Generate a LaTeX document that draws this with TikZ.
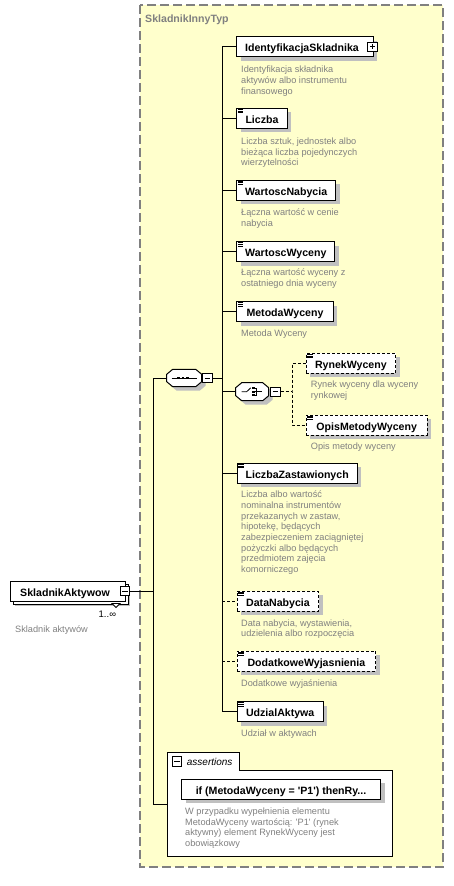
\documentclass[tikz,border=0pt]{standalone}
\usepackage{fontspec}
\setmainfont{Liberation Sans}
\usetikzlibrary{calc,shadows}
\definecolor{typefill}{RGB}{255,255,204}
\definecolor{shadowgray}{RGB}{192,192,192}
\definecolor{descgray}{RGB}{128,128,128}
\definecolor{bordergray}{RGB}{128,128,128}
\newcommand\elemfont{\fontsize{10.6}{13}\selectfont\bfseries}
\newcommand\descfont{\fontsize{9.2}{10.7}\selectfont}
\newcommand\dstrut{\rule{0pt}{7.5pt}}
\newcommand\simpleicon[1]{\draw[line width=0.7pt] ($(#1.north west)+(1.5,1.6)$) -- ++(5.5,0) ($(#1.north west)+(1.5,3.3)$) -- ++(5.5,0) ($(#1.north west)+(1.5,5)$) -- ++(5.5,0);}
\begin{document}
\begin{tikzpicture}[x=1pt,y=-1pt,
  elem/.style={draw=black, fill=white, line width=1pt, minimum height=20pt, inner sep=0pt,
    text height=10pt, text depth=0pt, font=\elemfont, anchor=west,
    drop shadow={shadow xshift=4pt, shadow yshift=-4pt, fill=shadowgray, opacity=1}},
  optelem/.style={elem, dash pattern=on 3pt off 2pt},
  desc/.style={anchor=north west, inner sep=0pt, align=left, text=descgray, font=\descfont},
  conn/.style={line width=1pt},
  optconn/.style={line width=1pt, dash pattern=on 3pt off 2pt},
  anchorbox/.style={inner sep=0pt, draw=none},
  pmbox/.style={draw=black, fill=white, line width=0.8pt, minimum size=9.5pt, inner sep=0pt},
  minusbox/.style={pmbox, path picture={\draw[line width=0.8pt] ($(path picture bounding box.west)+(2,0)$) -- ($(path picture bounding box.east)+(-2,0)$);}},
  plusbox/.style={pmbox, path picture={\draw[line width=0.8pt] ($(path picture bounding box.west)+(2,0)$) -- ($(path picture bounding box.east)+(-2,0)$) ($(path picture bounding box.north)+(0,2)$) -- ($(path picture bounding box.south)+(0,-2)$);}}
]
% page
\fill[white] (0,0) rectangle (454,886);
\useasboundingbox (0,0) rectangle (454,886);

% complex type box
\filldraw[fill=typefill, draw=bordergray, line width=1.2pt, dash pattern=on 9pt off 4pt] (140,5) rectangle (443,867);
\node[anchor=base west, inner sep=0pt, text=descgray, font=\elemfont] (typename) at (145,22.5) {SkladnikInnyTyp};

% connector coordinates
\coordinate (lvtop) at (153,378);
\coordinate (lvjoin) at (153,591);
\coordinate (lvbot) at (153,804);
\coordinate (asin) at (167.3,804);
\coordinate (rvtop) at (222,46.7);
\coordinate (rvbot) at (222,711.7);
\coordinate (cv) at (292,391.7);

% main element SkladnikAktywow (stacked)
\fill[shadowgray] (15,586) rectangle (130,606);
\filldraw[fill=white, line width=1pt] (13,584) rectangle (128,604);
\node[draw=black, fill=white, line width=1pt, minimum height=20pt, minimum width=115pt, inner sep=0pt, text height=10pt, text depth=0pt, font=\elemfont, anchor=west] (main) at (10,591) {SkladnikAktywow\hspace*{6pt}};
\filldraw[fill=white, line width=0.8pt] (112,603.5) -- (120,603.5) -- (116,607.5) -- cycle;
\node[minusbox] (mainm) at (125,591) {};
\node[anchor=base west, inner sep=0pt, font=\fontsize{9.5}{11}\selectfont] (mult) at (98.5,617) {1..∞};
\node[desc] (maindesc) at (15,625) {\dstrut Skladnik aktywów};

% left connectors
\draw[conn] (mainm.east) -- (lvjoin);
\draw[conn] (lvtop) -- (lvbot) -- (asin);

% sequence
\node[anchorbox, minimum width=35pt, minimum height=17.4pt] (seq) at (184.2,378) {};
\fill[shadowgray, shift={(4,4)}] (172.7,369.3) -- (195.7,369.3) -- (201.7,374.3) -- (201.7,381.7) -- (195.7,386.7) -- (172.7,386.7) -- (166.7,381.7) -- (166.7,374.3) -- cycle;
\filldraw[fill=white, line width=1pt] (172.7,369.3) -- (195.7,369.3) -- (201.7,374.3) -- (201.7,381.7) -- (195.7,386.7) -- (172.7,386.7) -- (166.7,381.7) -- (166.7,374.3) -- cycle;
\draw[line width=0.8pt] (171.7,378) -- (196.7,378);
\fill (177.3,376.6) rectangle +(2.8,2.8);
\fill (181.6,376.6) rectangle +(2.8,2.8);
\fill (185.9,376.6) rectangle +(2.8,2.8);
\node[minusbox] (seqm) at (207.3,378) {};
\draw[conn] (lvtop) -- (seq.west);
\draw[conn] (seqm.east) -- (seqm.east -| rvtop);
\draw[conn] (rvtop) -- (rvbot);

% children
\node[elem, minimum width=136.4pt] (ident) at (236.3,46.7) {IdentyfikacjaSkladnika\hspace*{6pt}};
\node[plusbox] (identp) at (372.5,46.7) {};
\node[desc] (identd) at (241,65) {\dstrut Identyfikacja składnika\\aktywów albo instrumentu\\finansowego};

\node[elem, minimum width=50.4pt] (liczba) at (236.3,118.3) {Liczba};
\simpleicon{liczba}
\node[desc] (liczbad) at (241,136.7) {\dstrut Liczba sztuk, jednostek albo\\bieżąca liczba pojedynczych\\wierzytelności};

\node[elem, minimum width=98.7pt] (wnab) at (236.3,190) {WartoscNabycia};
\simpleicon{wnab}
\node[desc] (wnabd) at (241,208) {\dstrut Łączna wartość w cenie\\nabycia};

\node[elem, minimum width=98pt] (wwyc) at (236.3,251.7) {WartoscWyceny};
\simpleicon{wwyc}
\node[desc] (wwycd) at (241,268) {\dstrut Łączna wartość wyceny z\\ostatniego dnia wyceny};

\node[elem, minimum width=96.4pt] (metoda) at (236.3,311.5) {MetodaWyceny};
\simpleicon{metoda}
\node[desc] (metodad) at (241,329) {\dstrut Metoda Wyceny};

% choice
\node[anchorbox, minimum width=33pt, minimum height=18pt] (choice) at (252.2,391.7) {};
\fill[shadowgray, shift={(4,4)}] (241.7,382.7) -- (262.7,382.7) -- (268.7,387.7) -- (268.7,395.7) -- (262.7,400.7) -- (241.7,400.7) -- (235.7,395.7) -- (235.7,387.7) -- cycle;
\filldraw[fill=white, line width=1pt] (241.7,382.7) -- (262.7,382.7) -- (268.7,387.7) -- (268.7,395.7) -- (262.7,400.7) -- (241.7,400.7) -- (235.7,395.7) -- (235.7,387.7) -- cycle;
\draw[line width=0.8pt] (241.5,391.7) -- (246.7,391.7) -- (250.7,387.8);
\fill (252.3,387) rectangle +(2.4,2.4);
\fill (252.3,390.5) rectangle +(2.4,2.4);
\fill (252.3,394) rectangle +(2.4,2.4);
\draw[line width=0.8pt] (254.7,388.2) -- (256.5,388.2) -- (256.5,395.2) -- (254.7,395.2) (254.7,391.7) -- (262,391.7);
\node[minusbox] (choicem) at (275.5,391.7) {};
\draw[conn] (choice.west -| rvtop) -- (choice.west);
\draw[optconn] (choicem.east) -- (cv);

\node[optelem, minimum width=89.3pt] (rynek) at (305.7,363.3) {RynekWyceny};
\simpleicon{rynek}
\node[desc] (rynekd) at (310.7,380) {\dstrut Rynek wyceny dla wyceny\\rynkowej};

\node[optelem, minimum width=121pt] (opis) at (305.7,425) {OpisMetodyWyceny};
\simpleicon{opis}
\node[desc] (opisd) at (310.7,441.7) {\dstrut Opis metody wyceny};

\draw[optconn] (rynek.west) -| (cv) |- (opis.west);

\node[elem, minimum width=120pt] (lzast) at (236.7,473.3) {LiczbaZastawionych};
\simpleicon{lzast}
\node[desc] (lzastd) at (241,490) {\dstrut Liczba albo wartość\\nominalna instrumentów\\przekazanych w zastaw,\\hipotekę, będących\\zabezpieczeniem zaciągniętej\\pożyczki albo będących\\przedmiotem zajęcia\\komorniczego};

\node[optelem, minimum width=81.6pt] (dnab) at (236.7,601) {DataNabycia};
\simpleicon{dnab}
\node[desc] (dnabd) at (241,618.3) {\dstrut Data nabycia, wystawienia,\\udzielenia albo rozpoczęcia};

\node[optelem, minimum width=138.3pt] (dodat) at (236.7,661) {DodatkoweWyjasnienia};
\simpleicon{dodat}
\node[desc] (dodatd) at (241,679) {\dstrut Dodatkowe wyjaśnienia};

\node[elem, minimum width=86pt] (udzial) at (236.7,711.7) {UdzialAktywa};
\simpleicon{udzial}
\node[desc] (udziald) at (241,728.3) {\dstrut Udział w aktywach};

% child connectors
\draw[conn] (ident.west -| rvtop) -- (ident.west);
\draw[conn] (liczba.west -| rvtop) -- (liczba.west);
\draw[conn] (wnab.west -| rvtop) -- (wnab.west);
\draw[conn] (wwyc.west -| rvtop) -- (wwyc.west);
\draw[conn] (metoda.west -| rvtop) -- (metoda.west);
\draw[conn] (lzast.west -| rvtop) -- (lzast.west);
\draw[optconn] (dnab.west -| rvtop) -- (dnab.west);
\draw[optconn] (dodat.west -| rvtop) -- (dodat.west);
\draw[conn] (udzial.west -| rvtop) -- (udzial.west);

% assertions
\node[anchorbox, minimum width=225pt, minimum height=103.3pt] (asrt) at (279.8,804.35) {};
\filldraw[fill=white, line width=1pt] (167.3,856) -- (167.3,752.7) -- (239.3,752.7) -- (239.3,770.7) -- (392.3,770.7) -- (392.3,856) -- cycle;
\node[minusbox] (asrtm) at (177,761.4) {};
\node[anchor=base west, inner sep=0pt, font=\fontsize{10}{12}\selectfont\itshape] (asrtlbl) at (186.7,765.3) {assertions};
\node[elem, minimum width=199pt] (ifa) at (181,789.3) {if (MetodaWyceny = \textquotesingle P1\textquotesingle) thenRy...};
\node[desc] (ifad) at (185,806.7) {\dstrut W przypadku wypełnienia elementu\\MetodaWyceny wartością: \textquotesingle P1\textquotesingle{} (rynek\\aktywny) element RynekWyceny jest\\obowiązkowy};
\end{tikzpicture}
\end{document}
